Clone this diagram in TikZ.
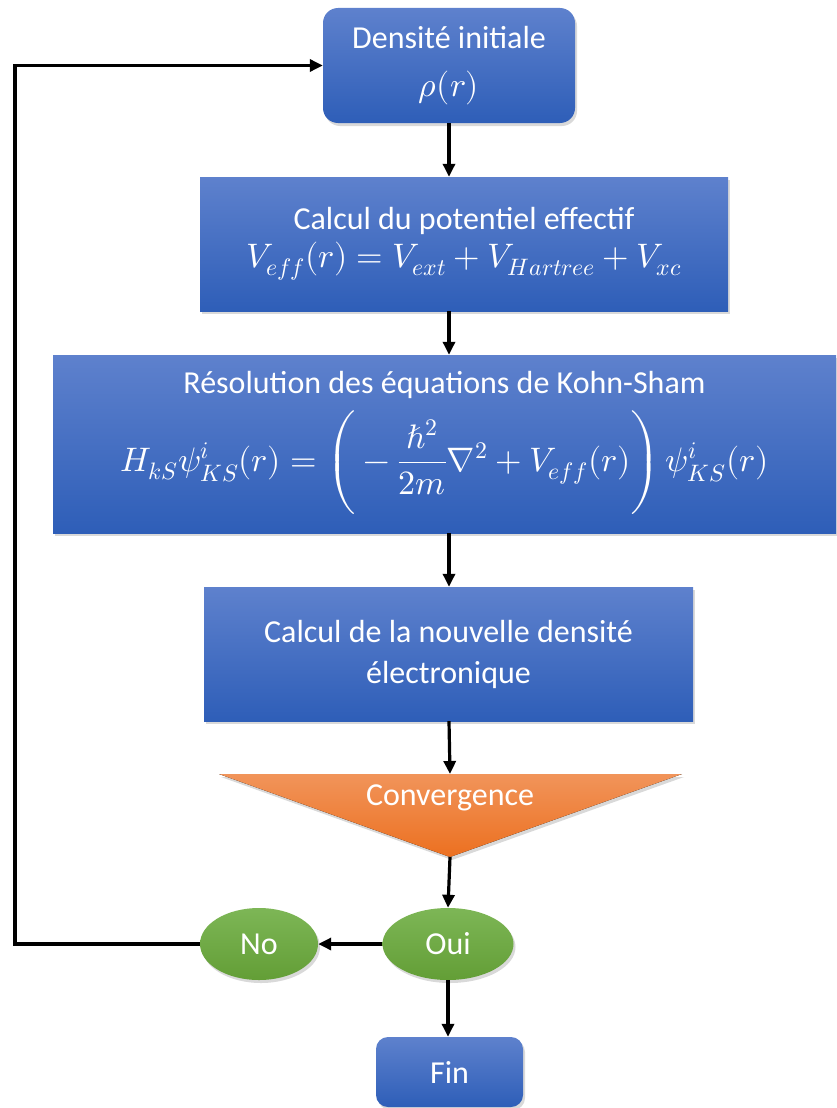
\documentclass[tikz,border=0pt]{standalone}
\usepackage{unicode-math}
\setmainfont{Carlito}
\usetikzlibrary{positioning,arrows.meta,shapes.geometric,shadows}

\definecolor{bleuhaut}{RGB}{94,129,205}
\definecolor{bleubas}{RGB}{46,94,184}
\definecolor{orhaut}{RGB}{241,148,90}
\definecolor{orbas}{RGB}{236,112,32}
\definecolor{verthaut}{RGB}{125,182,86}
\definecolor{vertbas}{RGB}{99,158,54}

\newcommand{\grandmath}{\fontsize{34}{40}\selectfont}

\begin{document}
\begin{tikzpicture}[x=1pt,y=1pt,
  font=\fontsize{32}{38}\selectfont,
  ombre/.style={drop shadow={opacity=0.3,shadow xshift=2pt,shadow yshift=-3pt}},
  boite/.style={ombre,top color=bleuhaut,bottom color=bleubas,text=white,align=center,inner sep=0pt},
  ovale/.style={ombre,ellipse,top color=verthaut,bottom color=vertbas,text=white,inner sep=0pt,minimum height=72pt},
  fleche/.style={-{Triangle[length=13pt,width=12pt]},line width=3.2pt,black},
]

\useasboundingbox (0,0) rectangle (836,-1108);

%%% boites
\node[boite,rounded corners=15pt,minimum width=252pt,minimum height=115pt] (init) at (449,-65.5)
  {Densité initiale\\[10pt]{\grandmath$\rho(r)$}};
\node[boite,minimum width=528pt,minimum height=134pt] (pot) at (464,-244)
  {Calcul du potentiel effectif\\{\grandmath$V_{eff}(r)=V_{ext}+V_{Hartree}+V_{xc}$}};
\node[boite,minimum width=783pt,minimum height=178pt] (ks) at (444.5,-444)
  {Résolution des équations de Kohn-Sham\\[10pt]
   {\grandmath$\displaystyle H_{kS}\psi^{i}_{KS}(r)=\left(\rule[-46pt]{0pt}{108pt}-\frac{\hbar^2}{2m}\nabla^2+V_{eff}(r)\right)\psi^{i}_{KS}(r)$}};
\node[boite,minimum width=489pt,minimum height=134pt] (dens) at (448.5,-654)
  {Calcul de la nouvelle densité\\[3pt]électronique};

%% triangle
\coordinate (convhaut) at (450,-774);
\coordinate (convbas) at (450,-857);
\fill[ombre,top color=orhaut,bottom color=orbas] (219,-774) -- (682,-774) -- (convbas) -- cycle;
\node[text=white,anchor=base] (conv) at (450,-805) {Convergence};

%% oui / no / fin
\node[ovale,minimum width=131pt] (oui) at (448,-944) {Oui};
\node[ovale,minimum width=118pt] (no) at (259,-944) {No};
\node[boite,rounded corners=12pt,minimum width=147pt,minimum height=70pt] (fin) at (449.5,-1072) {Fin};

%%% fleches
\draw[fleche] (init.south) -- (init.south |- pot.north);
\draw[fleche] (pot.south -| init) -- (ks.north -| init);
\draw[fleche] (ks.south -| init) -- (dens.north -| init);
\draw[fleche] (dens.south -| init) -- (convhaut);
\draw[fleche] (convbas) -- (oui.north);
\draw[fleche] (oui.west) -- (no.east);
\draw[fleche] (oui.south) -- (fin.north -| oui);

%% retour
\coordinate (coinbas) at (15,-944);
\coordinate (coinhaut) at (15,-65.5);
\draw[fleche] (no.west) -- (coinbas) -- (coinhaut) -- (init.west);

\end{tikzpicture}
\end{document}
